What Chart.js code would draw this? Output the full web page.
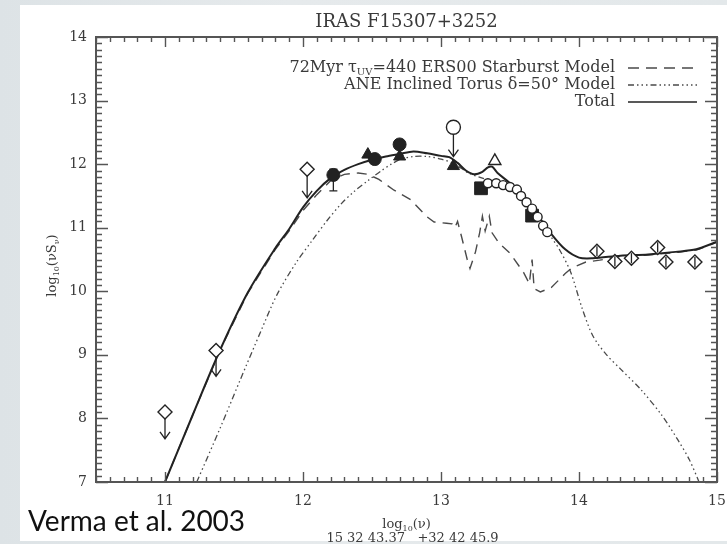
<!DOCTYPE html>
<html>
<head>
<meta charset="utf-8">
<script src="https://cdn.jsdelivr.net/npm/chart.js@4.4.1/dist/chart.umd.min.js"></script>
<style>
    html, body { margin: 0; padding: 0; }
    body { width: 727px; height: 544px; position: relative; overflow: hidden;
           background: linear-gradient(90deg, #dde3e6 0%, #e6eaec 40%, #e3e8ea 100%); }
    #sheet  { position: absolute; left: 20px; top: 5px; width: 707px; height: 536px; background: #fff; }
    #sed    { position: absolute; left: 0; top: 0; filter: blur(0.6px); }
    #credit { position: absolute; left: 28px; top: 503px; margin: 0;
              font: 28px Lato, "Open Sans", sans-serif; color: #111; white-space: nowrap; }
</style>
</head>
<body>
<div id="sheet"></div>
<canvas id="sed" width="727" height="544"></canvas>
<p id="credit">Verma et al. 2003</p>

<script>
const title  = "IRAS F15307+3252";
const coords = "15 32 43.37   +32 42 45.9";
const xTicks = [11, 12, 13, 14, 15];
const yTicks = [7, 8, 9, 10, 11, 12, 13, 14];

// model curves, log nu vs log nuS_nu
const totalX = [11.0, 11.2, 11.4, 11.6, 11.8, 11.9, 12.0, 12.1, 12.2, 12.3, 12.4, 12.5, 12.6, 12.7, 12.8,
                12.9, 13.0, 13.06, 13.12, 13.18, 13.24, 13.3, 13.34, 13.37, 13.41, 13.5, 13.6, 13.7,
                13.8, 13.9, 14.0, 14.1, 14.3, 14.5, 14.7, 14.85, 15.0];
const totalY = [7.0, 8.05, 9.08, 9.98, 10.68, 10.98, 11.32, 11.58, 11.78, 11.91, 12.0, 12.07, 12.12, 12.16, 12.2,
                12.17, 12.13, 12.11, 12.02, 11.9, 11.84, 11.88, 11.95, 11.96, 11.86, 11.7, 11.48, 11.2,
                10.9, 10.66, 10.53, 10.52, 10.56, 10.58, 10.62, 10.66, 10.78];

const starX = [11.0, 11.2, 11.4, 11.6, 11.8, 11.9, 12.0, 12.1, 12.2, 12.3, 12.4, 12.47, 12.55, 12.66, 12.78, 12.9,
               12.95, 13.04, 13.08, 13.1, 13.12, 13.15, 13.19, 13.21, 13.25, 13.28, 13.3, 13.32, 13.35,
               13.37, 13.42, 13.5, 13.6, 13.64, 13.66, 13.675, 13.72, 13.8, 13.9, 13.95, 14.05, 14.15,
               14.3, 14.5, 14.7, 14.85, 15.0];
const starY = [7.0, 8.05, 9.08, 9.97, 10.66, 10.95, 11.27, 11.52, 11.74, 11.84, 11.86, 11.84, 11.76, 11.59, 11.44, 11.17,
               11.09, 11.07, 11.06, 11.0, 11.1, 10.85, 10.5, 10.36, 10.62, 10.92, 11.18, 10.95, 11.18,
               10.92, 10.76, 10.6, 10.29, 10.12, 10.5, 10.04, 9.99, 10.06, 10.28, 10.37, 10.46, 10.49,
               10.55, 10.57, 10.61, 10.65, 10.77];

const torusX = [11.23, 11.4, 11.54, 11.7, 11.81, 11.95, 12.07, 12.17, 12.27, 12.37, 12.47, 12.57, 12.64, 12.71,
                12.8, 12.9, 13.0, 13.1, 13.2, 13.3, 13.4, 13.5, 13.6, 13.7, 13.8, 13.86, 13.94, 14.02,
                14.1, 14.2, 14.3, 14.45, 14.6, 14.72, 14.8, 14.87];
const torusY = [7.0, 7.85, 8.58, 9.4, 9.94, 10.45, 10.81, 11.1, 11.36, 11.57, 11.74, 11.9, 12.0, 12.08,
                12.12, 12.12, 12.08, 12.0, 11.86, 11.78, 11.72, 11.62, 11.45, 11.2, 10.85, 10.65, 10.3, 9.75,
                9.3, 9.0, 8.78, 8.45, 8.05, 7.65, 7.35, 7.0];

// photometry
const limX  = [11.0, 11.37, 12.03];           // open diamonds, upper limits
const limY  = [8.10, 9.07, 11.92];
const limTo = [7.68, 8.66, 11.47];
const ringLimX  = [13.09];                    // open circle, upper limit
const ringLimY  = [12.58];
const ringLimTo = [12.12];
const dotX  = [12.22, 12.52, 12.70];          // filled circles
const dotY  = [11.83, 12.08, 12.31];
const dotLo = [11.58, 12.08, 12.14];
const dotHi = [11.92, 12.08, 12.31];
const triX  = [12.47, 12.70, 13.09];          // filled triangles
const triY  = [12.15, 12.12, 11.97];
const openTriX = [13.39];
const openTriY = [12.05];
const squareX  = [13.29, 13.66];              // filled squares
const squareY  = [11.62, 11.19];
const ringX = [13.34, 13.40, 13.45, 13.50, 13.55, 13.58, 13.62, 13.66, 13.70, 13.74, 13.77];
const ringY = [11.70, 11.70, 11.67, 11.64, 11.60, 11.50, 11.40, 11.30, 11.17, 11.03, 10.93];
const nirX   = [14.13, 14.26, 14.38, 14.57, 14.63, 14.84];
const nirY   = [10.63, 10.47, 10.52, 10.69, 10.46, 10.46];
const nirErr = [0.08, 0.08, 0.08, 0.08, 0.08, 0.08];

const legendItems = [
    { parts: [["72Myr \u03c4", 0], ["UV", 1], ["=440 ERS00 Starburst Model", 0]], dash: [11, 7] },
    { parts: [["ANE Inclined Torus \u03b4=50\u00b0 Model", 0]], dash: [6, 3, 1.5, 3, 1.5, 3, 1.5, 3] },
    { parts: [["Total", 0]], dash: [] },
];

const ink   = "#222";
const model = "#4a4a4a";
const label = "#3a3a3a";
const serif = "'DejaVu Serif', 'Liberation Serif', serif";

const pts = (xs, ys) => xs.map((x, i) => ({ x: x, y: ys[i] }));

function curve(xs, ys, dash, width, tension, color) {
    return {
        type: 'line', data: pts(xs, ys), showLine: true, order: 2,
        borderColor: color, borderWidth: width, borderDash: dash,
        pointRadius: 0, tension: tension, fill: false,
    };
}

function marks(xs, ys, style, radius, filled) {
    return {
        type: 'scatter', data: pts(xs, ys), order: 1,
        pointStyle: style, pointRadius: radius,
        pointBackgroundColor: filled ? ink : "#fff",
        pointBorderColor: ink, pointBorderWidth: filled ? 1 : 1.4,
    };
}

// rich text: parts are [text, isSubscript]
function richWidth(ctx, parts, size) {
    let w = 0;
    for (const [t, sub] of parts) {
        ctx.font = `${sub ? Math.round(size * 0.65) : size}px ${serif}`;
        w += ctx.measureText(t).width;
    }
    return w;
}

function drawRich(ctx, parts, x, y, size, align) {
    const w = richWidth(ctx, parts, size);
    let cx = align === 'right' ? x - w : align === 'center' ? x - w / 2 : x;
    ctx.textAlign = 'left';
    ctx.textBaseline = 'middle';
    for (const [t, sub] of parts) {
        ctx.font = `${sub ? Math.round(size * 0.65) : size}px ${serif}`;
        ctx.fillText(t, cx, sub ? y + size * 0.3 : y);
        cx += ctx.measureText(t).width;
    }
}

function downArrow(ctx, px, from, to) {
    ctx.beginPath();
    ctx.moveTo(px, from);
    ctx.lineTo(px, to);
    ctx.moveTo(px - 5, to - 7);
    ctx.lineTo(px, to);
    ctx.lineTo(px + 5, to - 7);
    ctx.stroke();
}

function vBar(ctx, px, top, bottom, cap) {
    ctx.beginPath();
    ctx.moveTo(px, top);
    ctx.lineTo(px, bottom);
    if (cap) {
        ctx.moveTo(px - cap, top);    ctx.lineTo(px + cap, top);
        ctx.moveTo(px - cap, bottom); ctx.lineTo(px + cap, bottom);
    }
    ctx.stroke();
}

const sedDecor = {
    id: 'sedDecor',
    beforeDatasetsDraw(chart) {
        const { ctx, scales: { x, y } } = chart;
        ctx.save();
        ctx.strokeStyle = ink;
        ctx.lineWidth = 1.3;
        limX.forEach((v, i) => downArrow(ctx, x.getPixelForValue(v), y.getPixelForValue(limY[i]), y.getPixelForValue(limTo[i])));
        ringLimX.forEach((v, i) => downArrow(ctx, x.getPixelForValue(v), y.getPixelForValue(ringLimY[i]), y.getPixelForValue(ringLimTo[i])));
        dotX.forEach((v, i) => {
            if (dotLo[i] < dotHi[i]) vBar(ctx, x.getPixelForValue(v), y.getPixelForValue(dotHi[i]), y.getPixelForValue(dotLo[i]), 4);
        });
        ctx.restore();
    },
    afterDatasetsDraw(chart) {
        const { ctx, scales: { x, y } } = chart;
        ctx.save();
        ctx.strokeStyle = ink;
        ctx.lineWidth = 1.3;
        // bars through the near-IR diamonds sit on top of the markers
        nirX.forEach((v, i) => vBar(ctx, x.getPixelForValue(v), y.getPixelForValue(nirY[i] + nirErr[i]), y.getPixelForValue(nirY[i] - nirErr[i]), 0));
        ctx.restore();
    },
    afterDraw(chart) {
        const { ctx, chartArea: a, scales: { x, y } } = chart;
        ctx.save();

        // frame with inward ticks on all four sides
        ctx.strokeStyle = "#555";
        ctx.lineWidth = 2;
        ctx.strokeRect(a.left, a.top, a.right - a.left, a.bottom - a.top);
        ctx.lineWidth = 1.4;
        ctx.beginPath();
        for (let v = 10.5; v <= 15.001; v += 0.1) {
            const px = Math.round(x.getPixelForValue(v)) + 0.5;
            const major = Math.abs(v - Math.round(v)) < 0.01;
            const len = major ? 10 : 5;
            ctx.moveTo(px, a.bottom); ctx.lineTo(px, a.bottom - len);
            ctx.moveTo(px, a.top);    ctx.lineTo(px, a.top + len);
        }
        for (let v = 7; v <= 14.001; v += 0.1) {
            const py = Math.round(y.getPixelForValue(v)) + 0.5;
            const major = Math.abs(v - Math.round(v)) < 0.01;
            const len = major ? 12 : 6;
            ctx.moveTo(a.left, py);  ctx.lineTo(a.left + len, py);
            ctx.moveTo(a.right, py); ctx.lineTo(a.right - len, py);
        }
        ctx.stroke();

        ctx.fillStyle = label;
        ctx.textAlign = 'center';
        ctx.textBaseline = 'middle';
        ctx.font = `18px ${serif}`;
        ctx.fillText(title, (a.left + a.right) / 2, 22);

        // axis titles
        drawRich(ctx, [["log", 0], ["10", 1], ["(\u03bd)", 0]], (a.left + a.right) / 2, 525, 13, 'center');
        ctx.font = `13px ${serif}`;
        ctx.textAlign = 'center';
        ctx.fillText(coords, (a.left + a.right) / 2 + 6, 539);

        ctx.save();
        ctx.translate(53, (a.top + a.bottom) / 2 + 6);
        ctx.rotate(-Math.PI / 2);
        drawRich(ctx, [["log", 0], ["10", 1], ["(\u03bdS", 0], ["\u03bd", 1], [")", 0]], 0, 0, 13, 'center');
        ctx.restore();

        // legend, text right-aligned with the line sample after it
        legendItems.forEach((item, i) => {
            const ly = 68 + i * 17;
            ctx.fillStyle = label;
            drawRich(ctx, item.parts, 615, ly, 16, 'right');
            ctx.strokeStyle = item.dash.length ? model : ink;
            ctx.lineWidth = 1.3;
            ctx.setLineDash(item.dash);
            ctx.beginPath();
            ctx.moveTo(628, ly);
            ctx.lineTo(697, ly);
            ctx.stroke();
            ctx.setLineDash([]);
        });

        ctx.restore();
    }
};

new Chart(document.getElementById('sed'), {
    data: {
        datasets: [
            marks(limX, limY, 'rectRot', 7, false),
            marks(ringLimX, ringLimY, 'circle', 7, false),
            marks(dotX, dotY, 'circle', 6.5, true),
            marks(triX, triY, 'triangle', 7, true),
            marks(openTriX, openTriY, 'triangle', 7, false),
            marks(ringX, ringY, 'circle', 4.5, false),
            marks(squareX, squareY, 'rect', 9, true),
            marks(nirX, nirY, 'rectRot', 7, false),
            curve(totalX, totalY, [], 2, 0.3, ink),
            curve(starX, starY, [10, 7], 1.4, 0, model),
            curve(torusX, torusY, [6, 3, 1.5, 3, 1.5, 3, 1.5, 3], 1.3, 0.3, model),
        ]
    },
    options: {
        responsive: false,
        animation: false,
        events: [],
        layout: { padding: { top: 37, right: 6, left: 0, bottom: 0 } },
        plugins: { legend: { display: false }, tooltip: { enabled: false }, title: { display: false } },
        scales: {
            x: {
                type: 'linear', min: 10.5, max: 15,
                afterBuildTicks: s => { s.ticks = xTicks.map(v => ({ value: v })); },
                afterFit: s => { s.height = 62; s.paddingLeft = 0; s.paddingRight = 0; },
                grid: { display: false, drawTicks: false },
                border: { display: false },
                ticks: { font: { family: serif, size: 14 }, color: label, padding: 11, maxRotation: 0, autoSkip: false },
            },
            y: {
                type: 'linear', min: 7, max: 14,
                afterBuildTicks: s => { s.ticks = yTicks.map(v => ({ value: v })); },
                afterFit: s => { s.width = 96; },
                grid: { display: false, drawTicks: false },
                border: { display: false },
                ticks: { font: { family: serif, size: 14 }, color: label, padding: 9, autoSkip: false },
            }
        }
    },
    plugins: [sedDecor]
});
</script>
</body>
</html>
